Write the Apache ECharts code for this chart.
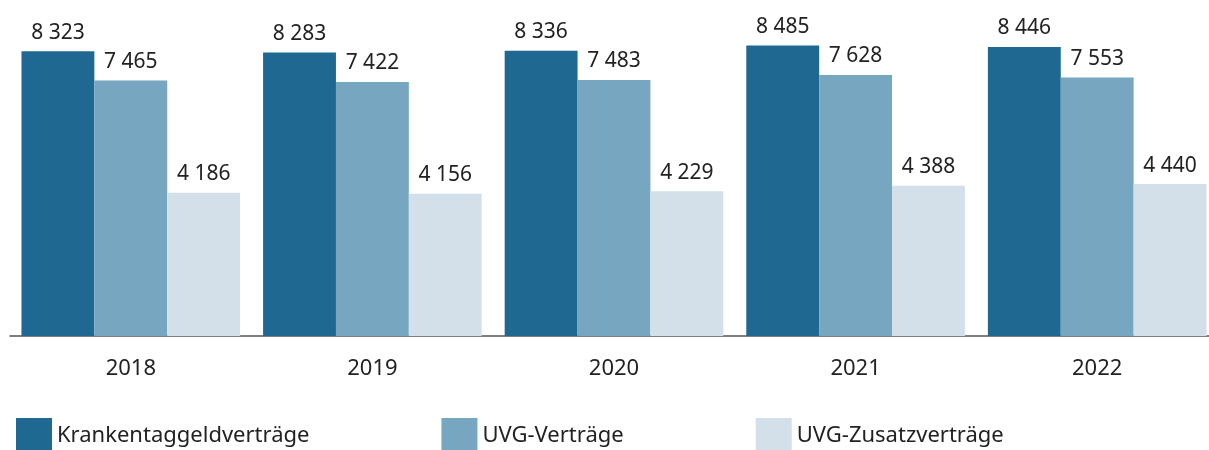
<!DOCTYPE html>
<html>
<head>
<meta charset="utf-8">
<script src="https://cdn.jsdelivr.net/npm/echarts@6/dist/echarts.min.js"></script>
<style>
    html, body { margin: 0; padding: 0; background: #fff; overflow: hidden; }
    #chart { width: 1218px; height: 450px; }
</style>
</head>
<body>
<div id="chart"></div>
<script>
// 数据
var years = ["2018", "2019", "2020", "2021", "2022"];
var seriesNames = ["Krankentaggeldverträge", "UVG-Verträge", "UVG-Zusatzverträge"];
var krankentaggeld = [8323, 8283, 8336, 8485, 8446];
var uvg = [7465, 7422, 7483, 7628, 7553];
var uvgZusatz = [4186, 4156, 4229, 4388, 4440];
var colors = ["#1f6891", "#77a6c1", "#d3e0e9"];

(function () {
    // 容器比窗口略宽, 最后一组柱子贴右边
    var myCharts = echarts.init(document.getElementById("chart"));
    var font = "'Noto Sans', 'Open Sans', sans-serif";

    // 千位分隔: 8 323
    function fmt(p) {
        return String(p.value).replace(/\B(?=(\d{3})+(?!\d))/g, " ");
    }

    function makeSeries(name, data, color) {
        return {
            name: name,
            type: "bar",
            data: data,
            barGap: 0,
            barCategoryGap: "9.5%",
            itemStyle: { color: color },
            label: {
                show: true,
                position: "top",
                distance: 8,
                formatter: fmt,
                color: "#222",
                fontSize: 21,
                fontFamily: font
            }
        };
    }

    var option = {
        animation: false,
        color: colors,
        grid: {
            left: 10,
            right: 0,
            top: 28,
            bottom: 114,
            containLabel: false
        },
        legend: {
            left: 11,
            top: 413,
            itemWidth: 36,
            itemHeight: 36,
            itemGap: 132,
            icon: "rect",
            textStyle: {
                color: "#222",
                fontSize: 22,
                fontFamily: font,
                padding: [4, 0, 0, 0]
            },
            data: seriesNames
        },
        xAxis: {
            type: "category",
            data: years,
            axisLine: { lineStyle: { color: "#555", width: 1.5 } },
            axisTick: { show: false },
            axisLabel: {
                color: "#222",
                fontSize: 22,
                fontFamily: font,
                margin: 22
            }
        },
        yAxis: {
            type: "value",
            min: 0,
            max: 9000,
            show: false,
            splitLine: { show: false }
        },
        series: [
            makeSeries(seriesNames[0], krankentaggeld, colors[0]),
            makeSeries(seriesNames[1], uvg, colors[1]),
            makeSeries(seriesNames[2], uvgZusatz, colors[2])
        ]
    };

    myCharts.setOption(option);
})();
</script>
</body>
</html>
